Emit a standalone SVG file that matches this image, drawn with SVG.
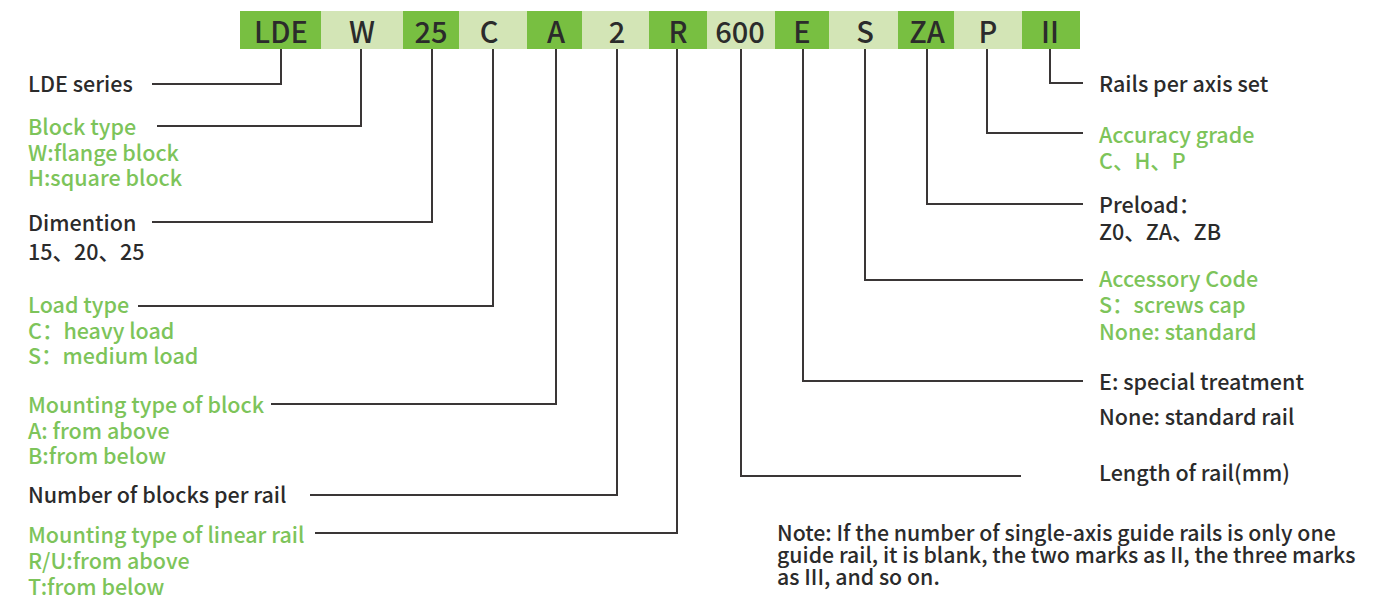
<svg xmlns="http://www.w3.org/2000/svg" width="1382" height="605" viewBox="0 0 1382 605">
<style>
.dk{fill:#78bf41}
.lt{fill:#d3e5b6}
.code{font-family:"Noto Sans CJK SC","Source Sans Pro","Liberation Sans",sans-serif;font-size:29px;font-weight:500;fill:#2b2b2b;text-anchor:middle}
.t{font-family:"Noto Sans CJK SC","Source Sans Pro","Liberation Sans",sans-serif;font-size:21.5px;font-weight:500}
.n{font-size:21.3px}
.b{fill:#2b2b2b}
.g{fill:#7dc45a}
.c{fill:none;stroke:#3a3636;stroke-width:2}
</style>
<rect width="1382" height="605" fill="#ffffff"/>
<g id="codebar">
<g id="c-LDE"><rect class="dk" x="240" y="11" width="81" height="38"/><text class="code" x="281" y="43">LDE</text></g>
<g id="c-W"><rect class="lt" x="321" y="11" width="82" height="38"/><text class="code" x="362" y="43">W</text></g>
<g id="c-25"><rect class="dk" x="403" y="11" width="56" height="38"/><text class="code" x="431" y="43">25</text></g>
<g id="c-C"><rect class="lt" x="459" y="11" width="68" height="38"/><text class="code" x="489" y="43">C</text></g>
<g id="c-A"><rect class="dk" x="527" y="11" width="55" height="38"/><text class="code" x="556" y="43">A</text></g>
<g id="c-2"><rect class="lt" x="582" y="11" width="67" height="38"/><text class="code" x="617" y="43">2</text></g>
<g id="c-R"><rect class="dk" x="649" y="11" width="58" height="38"/><text class="code" x="678" y="43">R</text></g>
<g id="c-600"><rect class="lt" x="707" y="11" width="68" height="38"/><text class="code" x="740" y="43">600</text></g>
<g id="c-E"><rect class="dk" x="775" y="11" width="54" height="38"/><text class="code" x="802" y="43">E</text></g>
<g id="c-S"><rect class="lt" x="829" y="11" width="69" height="38"/><text class="code" x="865" y="43">S</text></g>
<g id="c-ZA"><rect class="dk" x="898" y="11" width="56" height="38"/><text class="code" x="927" y="43">ZA</text></g>
<g id="c-P"><rect class="lt" x="954" y="11" width="68" height="38"/><text class="code" x="988" y="43">P</text></g>
<g id="c-II"><rect class="dk" x="1022" y="11" width="58" height="38"/><text class="code" x="1050" y="43">II</text></g>
</g>
<g id="connectors">
<polyline class="c" points="281,49 281,84 152,84"/>
<polyline class="c" points="361,49 361,126 157,126"/>
<polyline class="c" points="432,49 432,222 152,222"/>
<polyline class="c" points="493,49 493,306 138,306"/>
<polyline class="c" points="556,49 556,404 271,404"/>
<polyline class="c" points="617,49 617,495 310,495"/>
<polyline class="c" points="677,49 677,533 315,533"/>
<polyline class="c" points="741,49 741,476 1021,476"/>
<polyline class="c" points="803,49 803,381 1083,381"/>
<polyline class="c" points="865,49 865,280 1083,280"/>
<polyline class="c" points="927,49 927,204 1083,204"/>
<polyline class="c" points="987,49 987,133 1083,133"/>
<polyline class="c" points="1050,49 1050,83 1083,83"/>
</g>
<g id="n-series"><text class="t b" x="28" y="92">LDE series</text></g>
<g id="n-block"><text class="t g" x="28" y="135">Block type</text><text class="t g" x="28" y="161">W:flange block</text><text class="t g" x="28" y="186">H:square block</text></g>
<g id="n-dim"><text class="t b" x="28" y="231">Dimention</text><text class="t b" x="28" y="260">15、20、25</text></g>
<g id="n-load"><text class="t g" x="28" y="313">Load type</text><text class="t g" x="28" y="339">C：heavy load</text><text class="t g" x="28" y="364">S：medium load</text></g>
<g id="n-mblock"><text class="t g" x="28" y="413">Mounting type of block</text><text class="t g" x="28" y="439">A: from above</text><text class="t g" x="28" y="464">B:from below</text></g>
<g id="n-num"><text class="t b" x="28" y="503">Number of blocks per rail</text></g>
<g id="n-mrail"><text class="t g" x="28" y="543">Mounting type of linear rail</text><text class="t g" x="28" y="569">R/U:from above</text><text class="t g" x="28" y="595">T:from below</text></g>
<g id="n-rails"><text class="t b" x="1099" y="92">Rails per axis set</text></g>
<g id="n-acc"><text class="t g" x="1099" y="143">Accuracy grade</text><text class="t g" x="1099" y="169">C、H、P</text></g>
<g id="n-pre"><text class="t b" x="1099" y="213">Preload：</text><text class="t b" x="1099" y="240">Z0、ZA、ZB</text></g>
<g id="n-accs"><text class="t g" x="1099" y="287">Accessory Code</text><text class="t g" x="1099" y="313">S：screws cap</text><text class="t g" x="1099" y="340">None: standard</text></g>
<g id="n-e"><text class="t b" x="1099" y="390">E: special treatment</text><text class="t b" x="1099" y="425">None: standard rail</text></g>
<g id="n-len"><text class="t b" x="1099" y="481">Length of rail(mm)</text></g>
<g id="n-note"><text class="t n b" x="777" y="541">Note: If the number of single-axis guide rails is only one</text><text class="t n b" x="777" y="563">guide rail, it is blank, the two marks as II, the three marks</text><text class="t n b" x="777" y="585">as III, and so on.</text></g>
</svg>
